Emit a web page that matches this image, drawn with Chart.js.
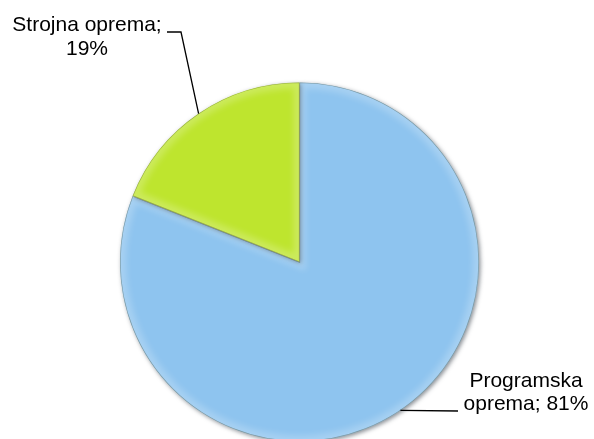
<!DOCTYPE html>
<html>
<head>
<meta charset="utf-8">
<script src="https://cdn.jsdelivr.net/npm/chart.js@4"></script>
<style>
  html, body { margin: 0; padding: 0; background: #ffffff; overflow: hidden; }
  #wrap { width: 594px; height: 445px; position: relative; }
</style>
</head>
<body>
<div id="wrap"><canvas id="c" width="594" height="445"></canvas></div>
<script>
// Shares of spending: software vs. hardware
const categories = ['Programska oprema', 'Strojna oprema'];
const shares = [81, 19];
const sliceColors = ['#8ec4ef', '#bee52e'];

// Label placement: centre x, first baseline, line gap, leader elbow
const labelLayout = [
  { cx: 526, y: 387, gap: 23, lines: (c, v) => ['Programska', 'oprema; ' + v + '%'], elbow: [458, 411] },
  { cx: 87, y: 31, gap: 24, lines: (c, v) => ['Strojna oprema;', v + '%'], elbow: [181, 32], tail: [167, 32] }
];

// Soft drop shadow under the slices
const shadowPlugin = {
  id: 'sliceShadow',
  beforeDatasetDraw(chart) {
    const c = chart.ctx;
    c.save();
    c.shadowColor = 'rgba(40,50,60,0.55)';
    c.shadowBlur = 4;
    c.shadowOffsetX = 1.5;
    c.shadowOffsetY = 1.5;
  },
  afterDatasetDraw(chart) {
    chart.ctx.restore();
  }
};

// Soft light rim inside each slice's edges
const bevelPlugin = {
  id: 'sliceBevel',
  afterDatasetsDraw(chart) {
    const c = chart.ctx;
    chart.getDatasetMeta(0).data.forEach((arc) => {
      const p = arc.getProps(['x', 'y', 'startAngle', 'endAngle', 'outerRadius']);
      const path = new Path2D();
      path.moveTo(p.x, p.y);
      path.arc(p.x, p.y, p.outerRadius, p.startAngle, p.endAngle);
      path.closePath();
      c.save();
      c.clip(path);
      c.filter = 'blur(3px)';
      c.lineWidth = 12;
      c.strokeStyle = 'rgba(255,255,255,0.22)';
      c.stroke(path);
      c.filter = 'none';
      c.lineWidth = 1.2;
      c.strokeStyle = 'rgba(60,70,40,0.4)';
      c.stroke(path);
      c.restore();
    });
  }
};

// Category labels with leader lines from each slice's mid-angle
const labelPlugin = {
  id: 'leaderLabels',
  afterDraw(chart) {
    const c = chart.ctx;
    const labels = chart.data.labels;
    const values = chart.data.datasets[0].data;
    chart.getDatasetMeta(0).data.forEach((arc, i) => {
      const p = arc.getProps(['x', 'y', 'startAngle', 'endAngle', 'outerRadius']);
      const mid = (p.startAngle + p.endAngle) / 2;
      const sx = p.x + Math.cos(mid) * p.outerRadius;
      const sy = p.y + Math.sin(mid) * p.outerRadius;
      const L = labelLayout[i];
      c.save();
      c.strokeStyle = '#000000';
      c.lineWidth = 1.3;
      c.beginPath();
      c.moveTo(sx, sy);
      c.lineTo(L.elbow[0], L.elbow[1]);
      if (L.tail) c.lineTo(L.tail[0], L.tail[1]);
      c.stroke();
      c.fillStyle = '#000000';
      c.font = '21px "Liberation Sans", Arial, sans-serif';
      c.textAlign = 'center';
      c.textBaseline = 'alphabetic';
      L.lines(labels[i], values[i]).forEach((t, k) => {
        c.fillText(t, L.cx, L.y + k * L.gap);
      });
      c.restore();
    });
  }
};

new Chart(document.getElementById('c'), {
  type: 'pie',
  data: {
    labels: categories,
    datasets: [{
      data: shares,
      backgroundColor: sliceColors,
      borderWidth: 0
    }]
  },
  options: {
    responsive: false,
    animation: false,
    layout: { padding: { top: 82, bottom: 3, left: 120, right: 115 } },
    plugins: {
      legend: { display: false },
      tooltip: { enabled: false }
    }
  },
  plugins: [shadowPlugin, bevelPlugin, labelPlugin]
});
</script>
</body>
</html>
